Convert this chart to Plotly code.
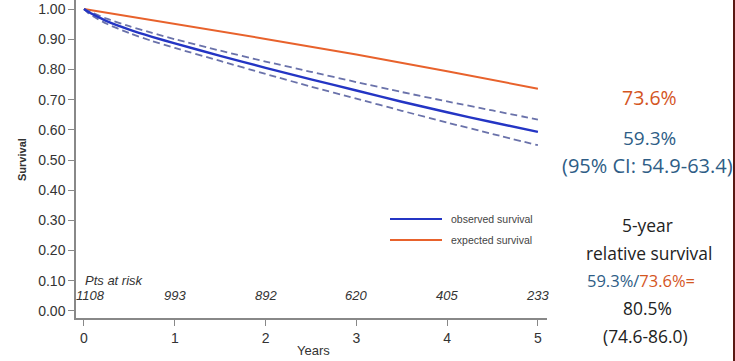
import plotly.graph_objects as go

# ---- data ----
years = [0, 0.05, 0.1, 0.25, 0.5, 0.75, 1, 1.5, 2, 2.5, 3, 3.5, 4, 4.5, 5]
observed = [1.0, 0.990, 0.982, 0.960, 0.932, 0.908, 0.886, 0.845, 0.805, 0.767, 0.730, 0.693, 0.658, 0.625, 0.593]
obs_upper = [1.0, 0.993, 0.987, 0.968, 0.943, 0.921, 0.900, 0.862, 0.826, 0.792, 0.758, 0.725, 0.694, 0.664, 0.634]
obs_lower = [1.0, 0.986, 0.976, 0.951, 0.920, 0.894, 0.871, 0.828, 0.785, 0.743, 0.703, 0.663, 0.624, 0.586, 0.549]
exp_years = [0, 1, 2, 3, 4, 5]
expected = [1.0, 0.951, 0.901, 0.849, 0.794, 0.736]
risk_years = [0, 1, 2, 3, 4, 5]
at_risk = ["1108", "993", "892", "620", "405", "233"]
y_ticks = [0.0, 0.1, 0.2, 0.3, 0.4, 0.5, 0.6, 0.7, 0.8, 0.9, 1.0]
x_ticks = [0, 1, 2, 3, 4, 5]
legend_names = ["observed survival", "expected survival"]

BLUE = "#2435c4"
ORANGE = "#e8622c"
DASH = "#6a72aa"
TXT_BLUE = "#2e5d86"
TXT_ORANGE = "#d4561f"

fig = go.Figure()
fig.add_trace(go.Scatter(x=exp_years, y=expected, mode="lines",
                         line=dict(color=ORANGE, width=2), showlegend=False))
fig.add_trace(go.Scatter(x=years, y=obs_upper, mode="lines",
                         line=dict(color=DASH, width=1.8, dash="7px,4px", shape="spline", smoothing=0.6),
                         showlegend=False))
fig.add_trace(go.Scatter(x=years, y=obs_lower, mode="lines",
                         line=dict(color=DASH, width=1.8, dash="7px,4px", shape="spline", smoothing=0.6),
                         showlegend=False))
fig.add_trace(go.Scatter(x=years, y=observed, mode="lines",
                         line=dict(color=BLUE, width=2.4, shape="spline", smoothing=0.6),
                         showlegend=False))

ann = []
AF = "Liberation Sans, Arial"
# numbers at risk
ann.append(dict(x=-0.01, y=0.10, xref="x", yref="y", text="<i>Pts at risk</i>", showarrow=False,
                xanchor="left", yanchor="middle", font=dict(family=AF, size=13, color="#333")))
for i, (xv, t) in enumerate(zip(risk_years, at_risk)):
    ann.append(dict(x=xv, y=0.05, xref="x", yref="y", text="<i>%s</i>" % t, showarrow=False,
                    xanchor="center", xshift=7 if i == 0 else 0, yanchor="middle",
                    font=dict(family=AF, size=13, color="#333")))

W, H = 735, 361
L, R, T, B = 76, 188, 0, 43
pw, ph = W - L - R, H - T - B
def px(xp):
    return (xp - L) / pw
def py(yp):
    return 1 - (yp - T) / ph

# axis titles
ann.append(dict(x=px(313), y=py(350), xref="paper", yref="paper", text="Years", showarrow=False,
                xanchor="center", yanchor="middle", font=dict(family=AF, size=13, color="#333")))
ann.append(dict(x=px(22), y=py(160), xref="paper", yref="paper", text="<b>Survival</b>", showarrow=False,
                textangle=-90, xanchor="center", yanchor="middle", font=dict(family=AF, size=11, color="#333")))

# legend (drawn manually)
shapes = []
for name, col, yp in zip(legend_names, [BLUE, ORANGE], [219, 240]):
    shapes.append(dict(type="line", xref="paper", yref="paper", x0=px(390), x1=px(442), y0=py(yp), y1=py(yp),
                       line=dict(color=col, width=2)))
    ann.append(dict(x=px(449), y=py(yp), xref="paper", yref="paper", text=name, showarrow=False,
                    xanchor="left", yanchor="middle",
                    font=dict(family=AF, size=10.5, color="#444")))

# right-hand text
RF = "Open Sans, Noto Sans, sans-serif"
right_lines = [
    (649, 98, "73.6%", TXT_ORANGE, 19.5),
    (649, 138, "59.3%", TXT_BLUE, 19),
    (647, 165, "(95% CI: 54.9-63.4)", TXT_BLUE, 20),
    (647, 225, "5-year", "#222", 17.4),
    (649, 253, "relative survival", "#222", 17.4),
    (641, 280, "<span style='color:%s'>59.3%%/</span><span style='color:%s'>73.6%%=</span>" % (TXT_BLUE, TXT_ORANGE), "#222", 16.5),
    (647, 308, "80.5%", "#222", 17.4),
    (645, 336, "(74.6-86.0)", "#222", 17.4),
]
for xp, yp, t, c, s in right_lines:
    ann.append(dict(x=px(xp), y=py(yp), xref="paper", yref="paper", text=t, showarrow=False,
                    xanchor="center", yanchor="middle", font=dict(family=RF, size=s, color=c)))

# thin dark edge on right
shapes.append(dict(type="rect", xref="paper", yref="paper", x0=px(733), x1=px(736), y0=py(361), y1=py(0),
                   fillcolor="#5a1a14", line=dict(width=0), layer="above"))

fig.update_layout(
    width=W, height=H,
    margin=dict(l=L, r=R, t=T, b=B, pad=0, autoexpand=False),
    paper_bgcolor="white", plot_bgcolor="white",
    annotations=ann, shapes=shapes,
    showlegend=False,
    font=dict(family=AF, color="#333"),
)
fig.update_xaxes(range=[-0.088, 5.1], tickvals=x_ticks, ticks="outside", ticklen=6, tickcolor="#888",
                 tickwidth=1.2, showline=True, linecolor="#888", linewidth=1.5, showgrid=False, zeroline=False,
                 tickfont=dict(size=14, color="#333"), automargin=False)
fig.update_yaxes(range=[-0.0232, 1.0298], tickvals=y_ticks, tickformat=".2f", ticks="outside", ticklen=6,
                 tickcolor="#888", tickwidth=1.2, showline=True, linecolor="#888", linewidth=1.5,
                 showgrid=False, zeroline=False, tickfont=dict(size=14, color="#333"), automargin=False)

fig.write_html("out.html", config={"displayModeBar": False},
               post_script="document.body.style.margin='0';")
